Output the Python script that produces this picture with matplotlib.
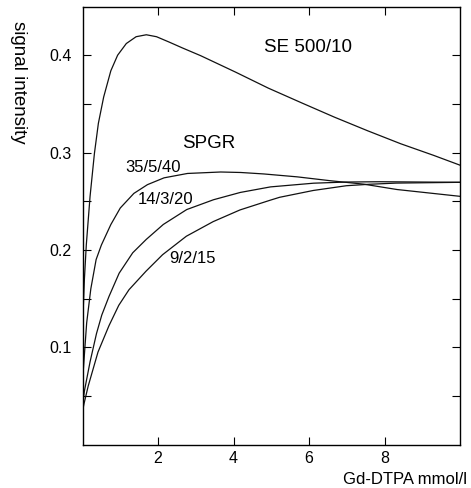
import numpy as np
import matplotlib
matplotlib.use("Agg")
import matplotlib.pyplot as plt

plt.rcParams["font.family"] = ["Liberation Sans", "DejaVu Sans"]

# Gd-DTPA concentration (mmol/l) and signal intensity for each sequence
se_conc = [0.0, 0.05, 0.1, 0.2, 0.315, 0.42, 0.56, 0.75, 0.93, 1.16, 1.42,
           1.69, 1.96, 2.3, 2.65, 3.13, 4.05, 4.92, 5.8, 6.67, 7.55, 8.43,
           9.3, 10.0]
se_sig = [0.12, 0.17, 0.205, 0.255, 0.299, 0.330, 0.357, 0.384, 0.400, 0.412,
          0.419, 0.421, 0.419, 0.4134, 0.4074, 0.3995, 0.3827, 0.3662, 0.3511,
          0.3364, 0.3224, 0.309, 0.2971, 0.287]

spgr35_conc = [0.0, 0.06, 0.11, 0.22, 0.36, 0.5, 0.75, 1.0, 1.36, 1.72, 2.16,
               2.78, 3.66, 4.19, 4.8, 5.69, 6.57, 7.45, 8.33, 10.0]
spgr35_sig = [0.065, 0.098, 0.125, 0.16, 0.19, 0.205, 0.226, 0.243, 0.258,
              0.267, 0.274, 0.2785, 0.280, 0.2795, 0.278, 0.275, 0.271, 0.2675,
              0.262, 0.255]

spgr14_conc = [0.0, 0.05, 0.2, 0.37, 0.51, 0.7, 0.97, 1.33, 1.69, 2.14, 2.76,
               3.47, 4.18, 4.98, 6.12, 7.0, 7.89, 10.0]
spgr14_sig = [0.04, 0.055, 0.085, 0.114, 0.133, 0.152, 0.176, 0.197, 0.2108,
              0.2261, 0.2414, 0.2515, 0.259, 0.2647, 0.2685, 0.2697, 0.270,
              0.2694]

spgr9_conc = [0.0, 0.04, 0.15, 0.41, 0.7, 0.96, 1.23, 1.68, 2.12, 2.75, 3.46,
              4.17, 4.97, 5.22, 6.11, 6.99, 7.6, 8.31, 10.0]
spgr9_sig = [0.034, 0.042, 0.06, 0.095, 0.122, 0.143, 0.159, 0.178, 0.195,
             0.214, 0.229, 0.241, 0.251, 0.254, 0.261, 0.2659, 0.2674, 0.2686,
             0.2694]

xtick_vals = [2, 4, 6, 8]
ytick_vals = [0.1, 0.2, 0.3, 0.4]
ytick_minor = [0.05, 0.15, 0.25, 0.35]

fig = plt.figure(figsize=(4.71, 4.88), dpi=100)
ax = fig.add_axes([0.1752, 0.0891, 0.8015, 0.8975])

for xs, ys in [(se_conc, se_sig), (spgr35_conc, spgr35_sig),
               (spgr14_conc, spgr14_sig), (spgr9_conc, spgr9_sig)]:
    ax.plot(xs, ys, color="#111111", lw=0.9)

ax.set_xlim(0, 10)
ax.set_ylim(0, 0.45)
ax.set_xticks(xtick_vals)
ax.set_xticklabels([str(v) for v in xtick_vals])
ax.set_yticks(ytick_vals)
ax.set_yticklabels([f"{v:.1f}" for v in ytick_vals])
ax.set_yticks(ytick_minor, minor=True)
ax.tick_params(which="both", direction="in", top=True, right=True,
               length=6, width=0.8, labelsize=11.5)
ax.tick_params(axis="y", pad=8)
ax.tick_params(axis="x", pad=5)
for sp in ax.spines.values():
    sp.set_linewidth(1.0)

# curve labels
ax.text(5.97, 0.403, "SE 500/10", fontsize=13.5, ha="center", va="baseline")
ax.text(3.35, 0.305, "SPGR", fontsize=13.5, ha="center", va="baseline")
ax.text(1.87, 0.280, "35/5/40", fontsize=12, ha="center", va="baseline")
ax.text(2.2, 0.2467, "14/3/20", fontsize=12, ha="center", va="baseline")
ax.text(2.92, 0.1867, "9/2/15", fontsize=12, ha="center", va="baseline")

fig.text(18 / 471, 1 - 82 / 488, "signal intensity", rotation=270,
         fontsize=13.5, ha="center", va="center")
fig.text(467 / 471, 1 - 479 / 488, "Gd-DTPA mmol/l", fontsize=12,
         ha="right", va="center")

fig.savefig("out.png", dpi=100)
